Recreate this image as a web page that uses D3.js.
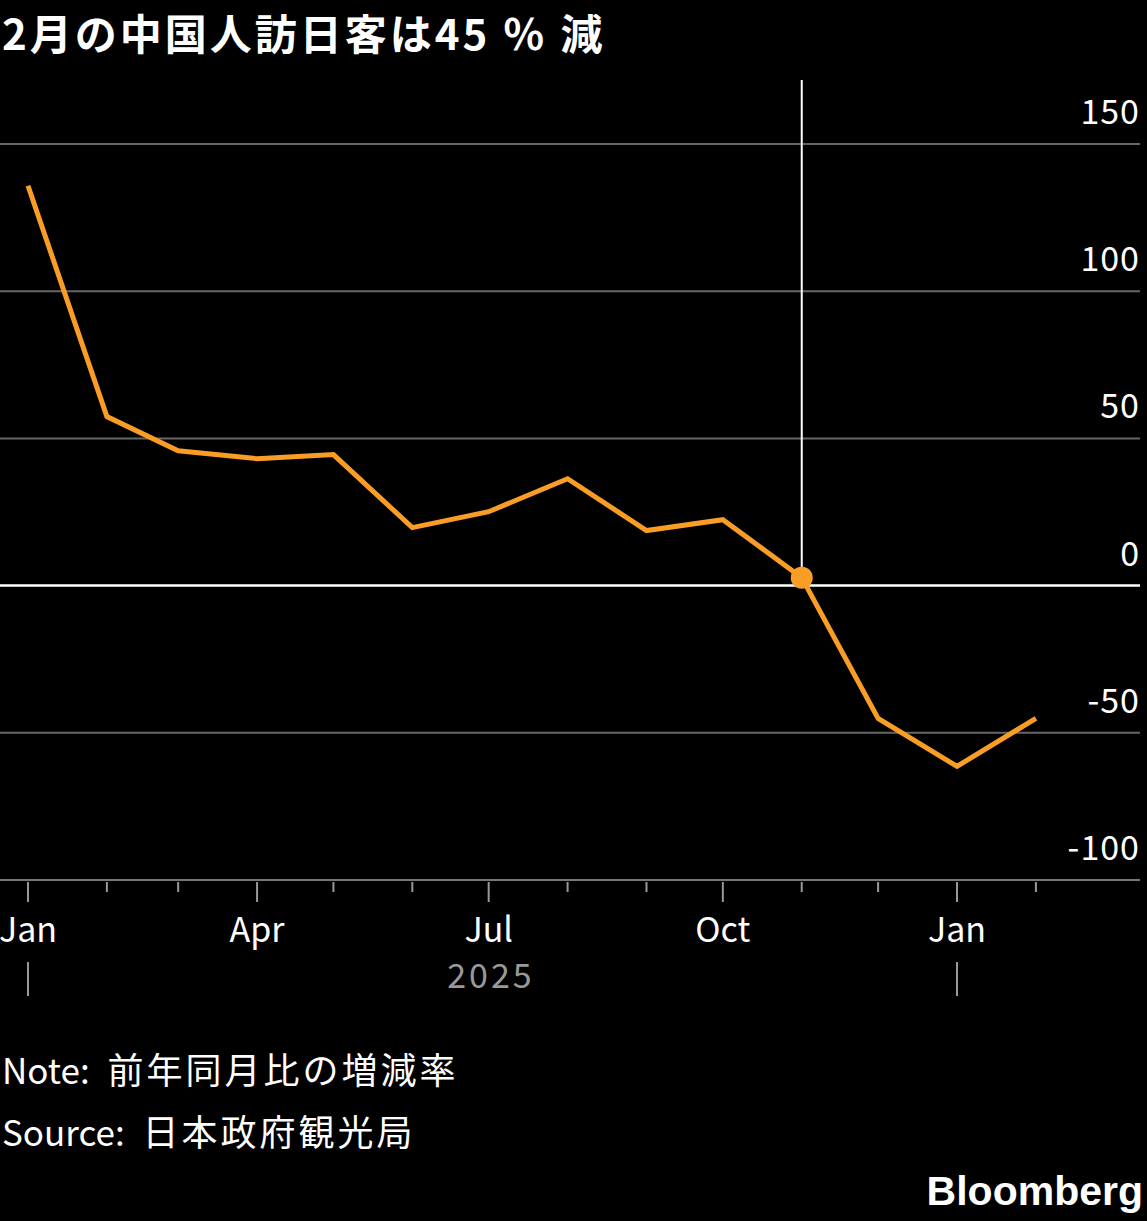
<!DOCTYPE html>
<html><head><meta charset="utf-8">
<script src="https://cdn.jsdelivr.net/npm/d3@7"></script>
<style>body{margin:0;background:#000;}svg{display:block;}</style>
</head><body>
<script>
const months = ["2025-01","2025-02","2025-03","2025-04","2025-05","2025-06","2025-07","2025-08","2025-09","2025-10","2025-11","2025-12","2026-01","2026-02"];
const values = [135.8,57.4,45.8,43.1,44.5,19.7,25.1,36.3,18.7,22.4,2.7,-45.1,-61.4,-45.1];
const yTicks = [150,100,50,0,-50,-100];
const xLabels = ["Jan","Apr","Jul","Oct","Jan"];
const highlight = "2025-11";

const W=1147,H=1221;
const font='"Liberation Sans Narrow","Noto Sans CJK JP",sans-serif';
const cjk='"Noto Sans CJK JP","Noto Sans",sans-serif';
const parse=d3.timeParse("%Y-%m");
const data=months.map((m,i)=>({d:parse(m),v:values[i]}));
const svg=d3.select("body").append("svg").attr("width",W).attr("height",H);
const x=d3.scaleTime().domain([parse("2025-01"),parse("2026-01")]).range([28,957]);
const y=d3.scaleLinear().domain([-100,150]).range([880,144]);

svg.append("text").attr("x",2).attr("y",50).attr("fill","#fff").attr("font-family",cjk)
 .attr("font-weight","bold").attr("font-size",42).attr("letter-spacing",3).text("2月の中国人訪日客は45 ％ 減");

yTicks.forEach(t=>{
 svg.append("line").attr("x1",0).attr("x2",1140).attr("y1",y(t)).attr("y2",y(t))
  .attr("stroke",t===0?"#fff":(t===-100?"#777":"#666")).attr("stroke-width",t===0?2.5:2);
 svg.append("text").attr("x",1140).attr("y",y(t)-20).attr("text-anchor","end").attr("fill","#fff")
  .attr("font-family",font).attr("font-size",34).attr("letter-spacing",1).text(t);
});

const hx=x(parse(highlight));
svg.append("line").attr("x1",hx).attr("x2",hx).attr("y1",80).attr("y2",y(0)).attr("stroke","#fff").attr("stroke-width",2);

const ticks=d3.timeMonth.range(parse("2025-01"),parse("2026-03"));
ticks.forEach(t=>{
 svg.append("line").attr("x1",x(t)).attr("x2",x(t)).attr("y1",882).attr("y2",t.getMonth()%3===0?902:892)
  .attr("stroke","#999").attr("stroke-width",2);
});
[0,3,6,9,12].forEach((k,i)=>{
 const t=d3.timeMonth.offset(parse("2025-01"),k);
 svg.append("text").attr("x",x(t)).attr("y",942).attr("text-anchor","middle").attr("fill","#fff")
  .attr("font-family",font).attr("font-size",34).text(xLabels[i]);
});
[parse("2025-01"),parse("2026-01")].forEach(t=>{
 svg.append("line").attr("x1",x(t)).attr("x2",x(t)).attr("y1",962).attr("y2",996).attr("stroke","#999").attr("stroke-width",2);
});
svg.append("text").attr("x",491).attr("y",988).attr("text-anchor","middle").attr("fill","#999")
 .attr("font-family",font).attr("font-size",34).attr("letter-spacing",3).text("2025");

svg.append("path").datum(data).attr("fill","none").attr("stroke","#f99d25").attr("stroke-width",5)
 .attr("stroke-linejoin","miter").attr("d",d3.line().x(d=>x(d.d)).y(d=>y(d.v)));
const hd=data.find(d=>+d.d===+parse(highlight));
svg.append("circle").attr("cx",x(hd.d)).attr("cy",y(hd.v)).attr("r",11).attr("fill","#f99d25");

svg.append("text").attr("x",2).attr("y",1084).attr("fill","#fff").attr("font-size",35).attr("font-family",font)
 .text("Note: ").append("tspan").attr("dx",10).attr("font-family",cjk).attr("font-size",36).attr("letter-spacing",3).text("前年同月比の増減率");
svg.append("text").attr("x",2).attr("y",1146).attr("fill","#fff").attr("font-size",35).attr("font-family",font)
 .text("Source: ").append("tspan").attr("dx",10).attr("font-family",cjk).attr("font-size",36).attr("letter-spacing",3).text("日本政府観光局");
svg.append("text").attr("x",1143).attr("y",1205).attr("text-anchor","end").attr("fill","#fff")
 .attr("font-family",'"Liberation Sans",sans-serif').attr("font-weight","bold").attr("font-size",41).text("Bloomberg");
</script>
</body></html>
